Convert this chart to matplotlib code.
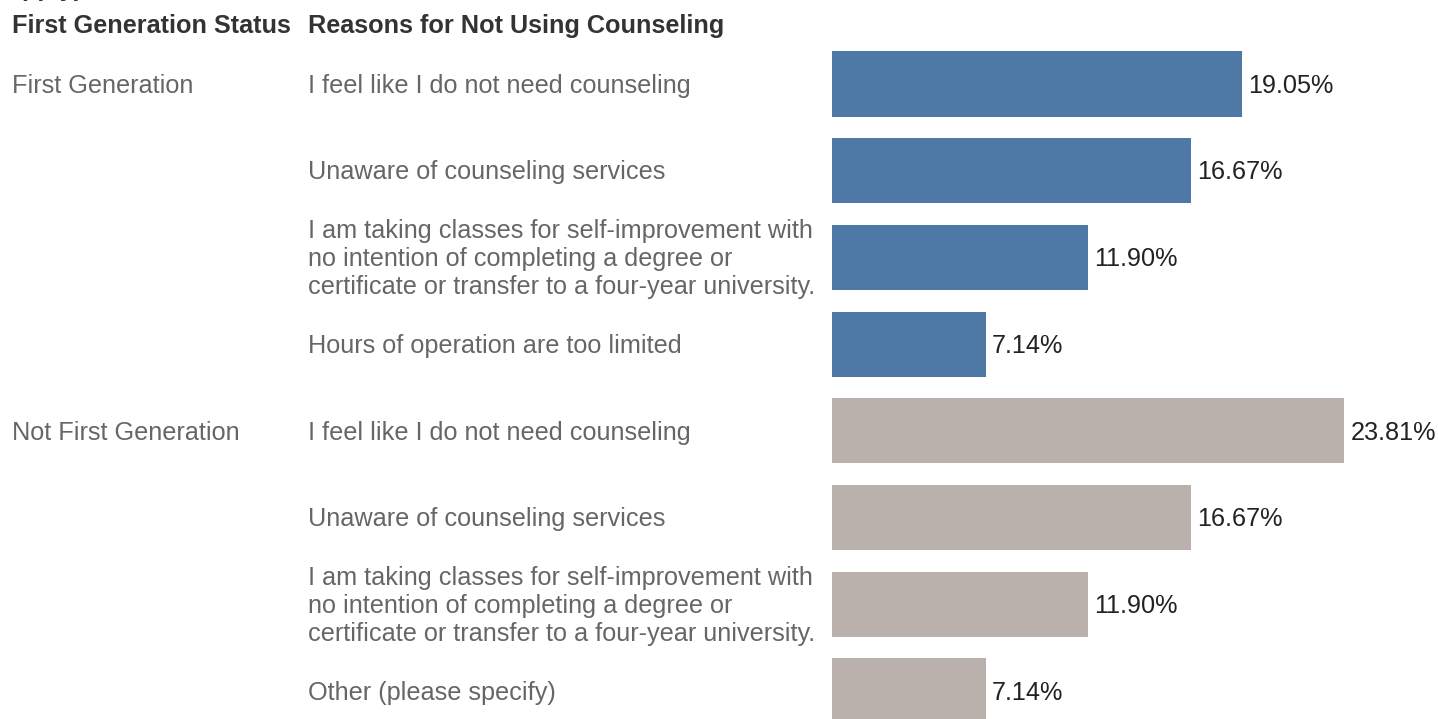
import matplotlib
matplotlib.use("Agg")
import matplotlib.pyplot as plt
from matplotlib.transforms import blended_transform_factory

plt.rcParams['font.family'] = ['Liberation Sans', 'DejaVu Sans']

groups = ["First Generation", "Not First Generation"]
reasons_first = [
    "I feel like I do not need counseling",
    "Unaware of counseling services",
    "I am taking classes for self-improvement with\nno intention of completing a degree or\ncertificate or transfer to a four-year university.",
    "Hours of operation are too limited",
]
reasons_not_first = [
    "I feel like I do not need counseling",
    "Unaware of counseling services",
    "I am taking classes for self-improvement with\nno intention of completing a degree or\ncertificate or transfer to a four-year university.",
    "Other (please specify)",
]
values_first = [19.05, 16.67, 11.90, 7.14]
values_not_first = [23.81, 16.67, 11.90, 7.14]

W, H = 1438, 719
fig = plt.figure(figsize=(W / 100, H / 100), dpi=100)
fig.patch.set_facecolor("white")

bar_left_px = 832
px_per_pct = 21.52
row0_px = 84.0
pitch_px = 86.7

ax = fig.add_axes([bar_left_px / W, 0, 1 - bar_left_px / W, 1])
ax.set_xlim(0, (W - bar_left_px) / px_per_pct)
ax.set_ylim((H - row0_px) / pitch_px, -row0_px / pitch_px)
ax.axis("off")

blue = "#4E79A7"
grey = "#BAB0AC"
label_col = "#666666"
value_col = "#222222"
head_col = "#333333"
fs = 18.2

tr = blended_transform_factory(fig.transFigure, ax.transData)

rows = []
for gi, (reasons, vals, col) in enumerate(
        [(reasons_first, values_first, blue), (reasons_not_first, values_not_first, grey)]):
    for r, v in zip(reasons, vals):
        rows.append((gi, r, v, col))

ypos = list(range(len(rows)))
ax.barh(ypos, [r[2] for r in rows], height=0.75, color=[r[3] for r in rows], left=0)

for y, (gi, reason, v, col) in zip(ypos, rows):
    ax.text(v + 6 / px_per_pct, y + 0.02, f"{v:.2f}%", va="center", ha="left",
            fontsize=fs, color=value_col)
    ax.text(308 / W, y + 0.02, reason, transform=tr, va="center", ha="left",
            fontsize=fs, color=label_col, linespacing=1.2)

for gi, g in enumerate(groups):
    ax.text(12 / W, gi * 4 + 0.02, g, transform=tr, va="center", ha="left",
            fontsize=fs, color=label_col)

# column headers
fig.text(12 / W, 1 - 26 / H, "First Generation Status", va="center", ha="left",
         fontsize=fs, fontweight="bold", color=head_col)
fig.text(308 / W, 1 - 26 / H, "Reasons for Not Using Counseling", va="center", ha="left",
         fontsize=fs, fontweight="bold", color=head_col)
fig.text(8 / W, 1 + 4 / H, "apply)", va="baseline", ha="left",
         fontsize=fs, fontweight="bold", color=head_col)

fig.savefig("out.png", dpi=100)
